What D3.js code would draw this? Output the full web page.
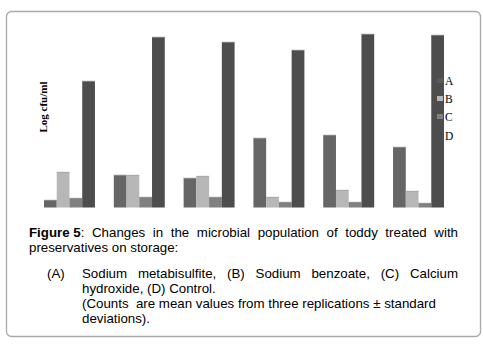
<!DOCTYPE html>
<html>
<head>
<meta charset="utf-8">
<script src="https://cdn.jsdelivr.net/npm/d3@7"></script>
<style>
  body { margin: 0; background: #fff; }
  svg { display: block; }
</style>
</head>
<body>
<script>
const groups = ['1', '2', '3', '4', '5', '6']
const series = ['A', 'B', 'C', 'D']
const valuesA = [0.38, 1.63, 1.48, 3.48, 3.63, 3.03]
const valuesB = [1.78, 1.63, 1.58, 0.53, 0.88, 0.83]
const valuesC = [0.48, 0.53, 0.53, 0.28, 0.28, 0.23]
const valuesD = [6.33, 8.53, 8.28, 7.88, 8.68, 8.63]
const colors = ['#666666', '#b7b7b7', '#808080', '#4d4d4d']
const legendColors = ['#5a5a5a', '#b7b7b7', '#808080', '#4d4d4d']

const captionLines = [
  { words: ['Figure 5:', 'Changes', 'in', 'the', 'microbial', 'population', 'of', 'toddy', 'treated', 'with'], x: 29, y: 237, justify: true, bold: 'Figure 5' },
  { words: ['preservatives on storage:'], x: 29, y: 252 },
  { words: ['(A)'], x: 47, y: 278 },
  { words: ['Sodium', 'metabisulfite,', '(B)', 'Sodium', 'benzoate,', '(C)', 'Calcium'], x: 82, y: 278, justify: true },
  { words: ['hydroxide, (D) Control.'], x: 82, y: 293 },
  { words: ['(Counts  are mean values from three replications \u00b1 standard'], x: 82, y: 308 },
  { words: ['deviations).'], x: 82, y: 323 }
]

const width = 483
const height = 347
const rightEdge = 458

const data = groups.map((g, i) => ({
  group: g,
  vals: [valuesA[i], valuesB[i], valuesC[i], valuesD[i]]
}))

const svg = d3.select('body')
  .append('svg')
  .attr('width', width)
  .attr('height', height)

svg.append('rect')
  .attr('x', 6.5)
  .attr('y', 11.5)
  .attr('width', 474)
  .attr('height', 325)
  .attr('rx', 5)
  .attr('fill', 'none')
  .attr('stroke', '#a9a9a9')
  .attr('stroke-width', 1.3)

const x0 = d3.scaleBand()
  .domain(groups)
  .range([44, 444])
  .paddingInner(0.27)
  .paddingOuter(0)

const x1 = d3.scaleBand()
  .domain(series)
  .range([0, x0.bandwidth()])

const y = d3.scaleLinear()
  .domain([0, 9])
  .range([207.5, 27.5])

const g = svg.append('g').attr('class', 'bars')
  .selectAll('g')
  .data(data)
  .enter()
  .append('g')
  .attr('transform', d => `translate(${x0(d.group)},0)`)

g.selectAll('rect')
  .data(d => d.vals.map((v, j) => ({ key: series[j], v: v, c: colors[j] })))
  .enter()
  .append('rect')
  .attr('x', d => x1(d.key))
  .attr('y', d => y(d.v))
  .attr('width', x1.bandwidth())
  .attr('height', d => y(0) - y(d.v))
  .attr('fill', d => d.c)

// thin light top edge on each bar
g.selectAll('line')
  .data(d => d.vals.map((v, j) => ({ key: series[j], v: v })))
  .enter()
  .append('line')
  .attr('x1', d => x1(d.key))
  .attr('x2', d => x1(d.key) + x1.bandwidth())
  .attr('y1', d => y(d.v) + 0.5)
  .attr('y2', d => y(d.v) + 0.5)
  .attr('stroke', '#a0a0a0')
  .attr('stroke-width', 1)
  .attr('opacity', 0.6)

// y label
svg.append('text')
  .attr('transform', 'translate(47,107) rotate(-90)')
  .attr('text-anchor', 'middle')
  .attr('font-family', '"Liberation Serif", "Times New Roman", serif')
  .attr('font-weight', 'bold')
  .attr('font-size', 11)
  .text('Log cfu/ml')

// legend
const legendY = [81, 99, 117, 136]
const legend = svg.append('g').attr('class', 'legend')
  .selectAll('g')
  .data(series)
  .enter()
  .append('g')
  .attr('transform', (d, i) => `translate(437,${legendY[i]})`)

legend.append('rect')
  .attr('x', 0)
  .attr('y', -3)
  .attr('width', 6)
  .attr('height', 5)
  .attr('fill', (d, i) => legendColors[i])

legend.append('text')
  .attr('x', 8)
  .attr('y', 4)
  .attr('font-family', '"Liberation Serif", "Times New Roman", serif')
  .attr('font-size', 11.5)
  .attr('fill', '#000')
  .text(d => d)

// caption
const cap = svg.append('g').attr('class', 'caption')
  .attr('font-family', '"Liberation Sans", Arial, sans-serif')
  .attr('font-size', 13.3)
  .attr('fill', '#000')

captionLines.forEach(line => {
  const texts = line.words.map(w => {
    const t = cap.append('text').attr('y', line.y).style('white-space', 'pre')
    if (line.bold && w.startsWith(line.bold)) {
      t.append('tspan').attr('font-weight', 'bold').text(line.bold)
      t.append('tspan').text(w.slice(line.bold.length))
    } else {
      t.text(w)
    }
    return t
  })
  if (line.justify) {
    const widths = texts.map(t => t.node().getComputedTextLength())
    const total = d3.sum(widths)
    const gap = (rightEdge - line.x - total) / (texts.length - 1)
    let cx = line.x
    texts.forEach((t, i) => {
      t.attr('x', cx)
      cx += widths[i] + gap
    })
  } else {
    texts.forEach(t => t.attr('x', line.x))
  }
})
</script>
</body>
</html>
